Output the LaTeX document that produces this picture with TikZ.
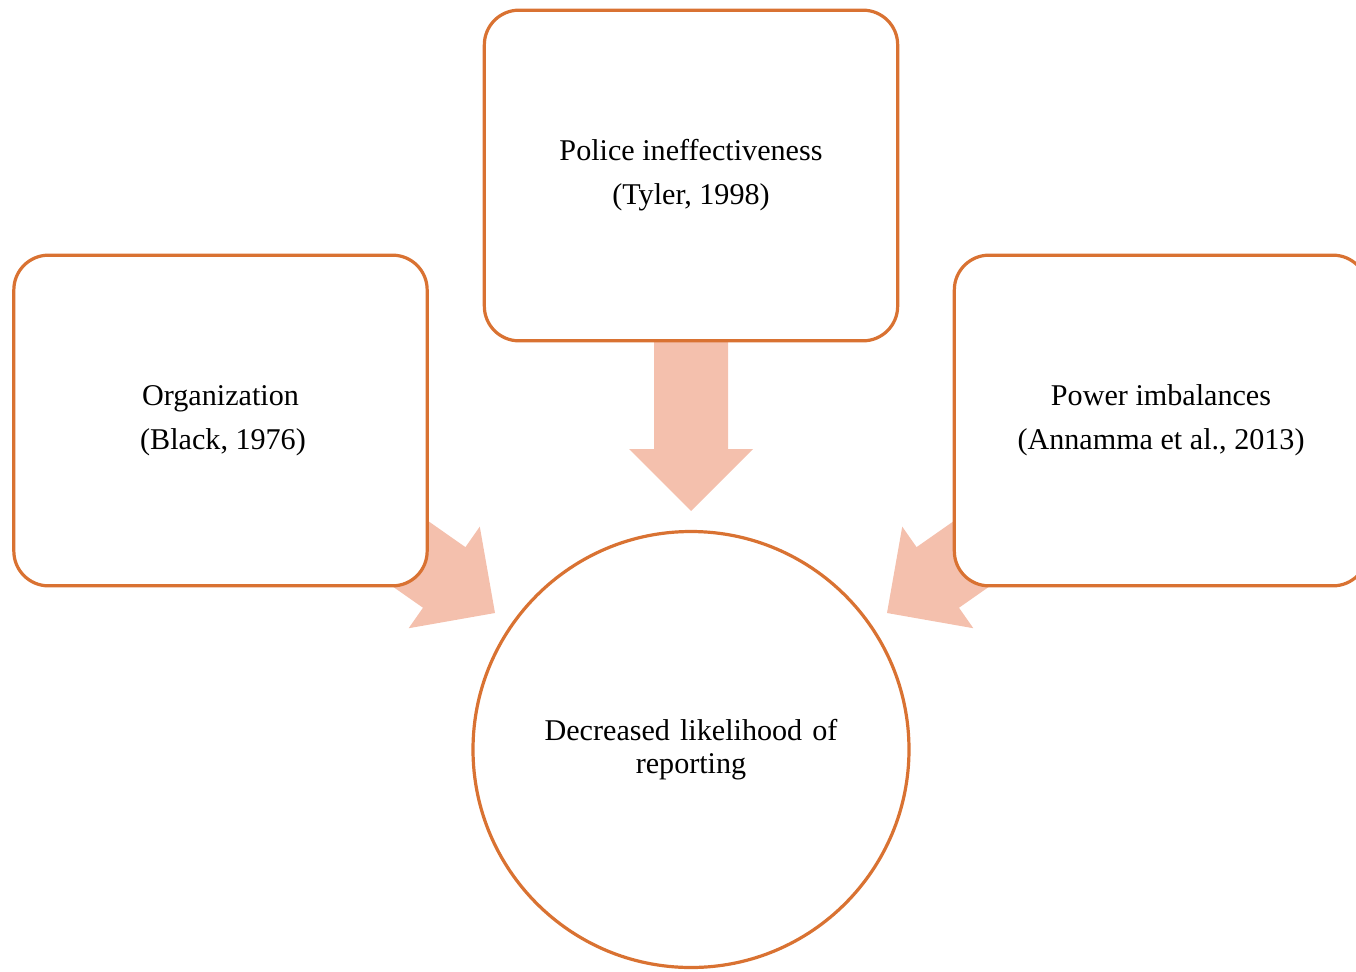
\documentclass[tikz,border=0pt]{standalone}
\usepackage{fontspec}
\setmainfont{Liberation Serif}
\definecolor{edgeorange}{HTML}{D97232}
\definecolor{arrowfill}{HTML}{F4C0AD}
\begin{document}
\begin{tikzpicture}[x=0.75pt,y=-0.75pt,
  box/.style={draw=edgeorange, line width=2.4pt, fill=white, rounded corners=26pt,
    minimum width=310pt, minimum height=248pt, inner sep=0pt, align=center,
    font=\fontsize{22.6}{24.5}\selectfont},
  circ/.style={draw=edgeorange, line width=2.4pt, fill=white, circle,
    minimum size=327pt, inner sep=0pt, align=center, text width=240pt,
    font=\fontsize{22.6}{24.75}\selectfont},
  fatarrow/.style={fill=arrowfill}]
\useasboundingbox (0,0) rectangle (1356,971);
\clip (0,0) rectangle (1356,971);
% arrows (drawn first, behind boxes)
\begin{scope}[shift={(691,511)}]
  \fill[fatarrow] (0,0) -- (62,-62) -- (37,-62) -- (37,-250) -- (-37,-250) -- (-37,-62) -- (-62,-62) -- cycle;
\end{scope}
\begin{scope}[shift={(495,613)}, rotate=55]
  \fill[fatarrow] (0,0) -- (62,-62) -- (37,-62) -- (37,-250) -- (-37,-250) -- (-37,-62) -- (-62,-62) -- cycle;
\end{scope}
\begin{scope}[shift={(887,613)}, rotate=-55]
  \fill[fatarrow] (0,0) -- (62,-62) -- (37,-62) -- (37,-250) -- (-37,-250) -- (-37,-62) -- (-62,-62) -- cycle;
\end{scope}
% boxes
\node[box] (police) at (691,175.5) {Police ineffectiveness\\[8.5pt](Tyler, 1998)};
\node[box] (org) at (220.5,420.5) {Organization\\[8.5pt]\,(Black, 1976)};
\node[box] (power) at (1161,420.5) {Power imbalances\\[8.5pt](Annamma et al., 2013)};
\node[circ] (dec) at (691,749.5) {Decreased likelihood of\\reporting};
\end{tikzpicture}
\end{document}
